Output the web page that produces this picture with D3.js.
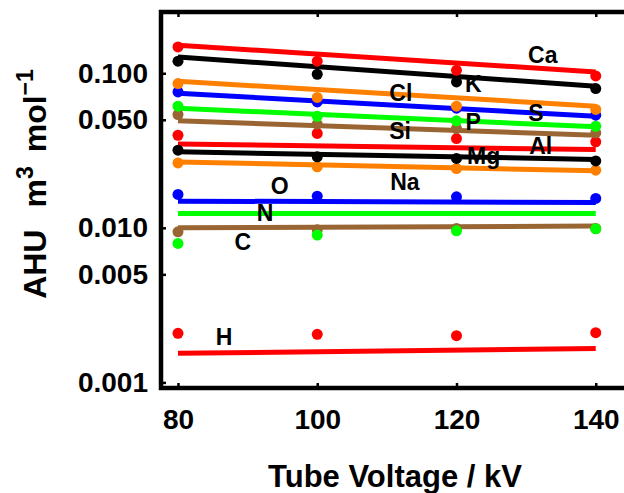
<!DOCTYPE html>
<html>
<head>
<meta charset="utf-8">
<script src="https://cdn.jsdelivr.net/npm/d3@7"></script>
<style>
  html, body { margin: 0; padding: 0; background: #fff; }
  svg { display: block; }
  text { font-family: "Liberation Sans", Arial, Helvetica, sans-serif; font-weight: bold; fill: #000; }
</style>
</head>
<body>
<svg id="chart" width="624" height="493"></svg>
<script>
// Tube voltages (kV) at which each element was measured
const voltages = [80, 100, 120, 140];

// Elements, drawing colours
const elements = ["Ca", "K", "Cl", "S", "P", "Si", "Al", "Mg", "Na", "O", "N", "C", "H"];
const colors = ["#ff0000", "#000000", "#ff8000", "#0000ff", "#00ff00", "#996633",
                "#ff0000", "#000000", "#ff8000", "#0000ff", "#00ff00", "#996633", "#ff0000"];

// Measured AHU per mole (m^3 mol^-1) at 80, 100, 120, 140 kV
const measured = [
  [0.148, 0.1196, 0.1045, 0.0960],   // Ca
  [0.1196, 0.0985, 0.0879, 0.0796],  // K
  [0.0858, 0.0697, 0.0612, 0.0583],  // Cl
  [0.0757, 0.0652, 0.0594, 0.0535],  // S
  [0.0612, 0.0527, 0.0492, 0.0454],  // P
  [0.0541, 0.0468, 0.0439, 0.0411],  // Si
  [0.0397, 0.0408, 0.0378, 0.0360],  // Al
  [0.0318, 0.0288, 0.0281, 0.0271],  // Mg
  [0.0263, 0.0248, 0.0242, 0.0236],  // Na
  [0.01645, 0.01603, 0.01586, 0.01549], // O
  [0.00793, 0.00897, 0.00956, 0.00985], // N
  [0.00942, 0.0097, 0.0099, 0.0099],    // C
  [0.002077, 0.002046, 0.002004, 0.002096] // H
];

// Fitted values at the ends of the voltage range (80 kV, 140 kV)
const fitAt80  = [0.152, 0.1273, 0.0888, 0.0743, 0.0594, 0.0492, 0.0348, 0.0310, 0.0267, 0.01488, 0.0124, 0.0100, 0.001541];
const fitAt140 = [0.102, 0.0824, 0.0612, 0.0527, 0.0450, 0.0397, 0.0321, 0.0277, 0.0234, 0.01460, 0.0124, 0.01026, 0.00166];

// Element label anchors: [kV, AHU]
const labelAt = [
  [132.4, 0.1307], [122.4, 0.0849], [112.0, 0.0743], [131.4, 0.0551],
  [122.4, 0.0482], [111.9, 0.0422], [132.1, 0.0337], [123.9, 0.0291],
  [112.6, 0.0197], [94.6, 0.0186], [92.5, 0.01245], [89.3, 0.00808], [86.6, 0.00197]
];

const yTicks = [0.001, 0.005, 0.01, 0.05, 0.1];
const xTicks = [80, 100, 120, 140];

const svg = d3.select("#chart");
const mLeft = 161, mRight = 641, mTop = 12, mBottom = 388;

const x = d3.scaleLinear().domain([77.56, 146.5]).range([mLeft, mRight]);
const y = d3.scaleLog().domain([0.00092, 0.249]).range([mBottom, mTop]);

// plot contents
const plot = svg.append("g");

const line = d3.line().x(d => x(d[0])).y(d => y(d[1]));
elements.forEach((el, i) => {
  plot.append("path")
    .attr("d", line([[voltages[0], fitAt80[i]], [voltages[voltages.length - 1], fitAt140[i]]]))
    .attr("fill", "none")
    .attr("stroke", colors[i])
    .attr("stroke-width", 5);
});

// points: earlier elements sit on top
for (let i = elements.length - 1; i >= 0; i--) {
  plot.append("g").selectAll("circle")
    .data(measured[i].map((v, j) => [voltages[j], v]))
    .join("circle")
    .attr("cx", d => x(d[0]))
    .attr("cy", d => y(d[1]))
    .attr("r", 5.5)
    .attr("fill", colors[i]);
}

// element labels
plot.append("g").selectAll("text")
  .data(elements)
  .join("text")
  .attr("x", (d, i) => x(labelAt[i][0]))
  .attr("y", (d, i) => y(labelAt[i][1]))
  .attr("text-anchor", "middle")
  .attr("dominant-baseline", "central")
  .attr("font-size", 23)
  .text(d => d);

// axes
const yAxis = d3.axisLeft(y).tickValues(yTicks).tickFormat(d3.format(".3f"))
  .tickSizeInner(-5).tickSizeOuter(0).tickPadding(13);
const gy = svg.append("g").attr("transform", `translate(${mLeft},0)`).call(yAxis);

const xAxis = d3.axisBottom(x).tickValues(xTicks).tickFormat(d3.format("d"))
  .tickSizeInner(-5).tickSizeOuter(0).tickPadding(21);
const gx = svg.append("g").attr("transform", `translate(0,${mBottom})`).call(xAxis);

const xTop = d3.axisTop(x).tickValues(xTicks).tickFormat("")
  .tickSizeInner(-5).tickSizeOuter(0);
const gt = svg.append("g").attr("transform", `translate(0,${mTop})`).call(xTop);

[gy, gx, gt].forEach(g => {
  g.select(".domain").remove();
  g.selectAll(".tick line").attr("stroke", "#000").attr("stroke-width", 2.5);
  g.selectAll(".tick text").attr("font-size", 28).attr("fill", "#000")
    .style("font-family", '"Liberation Sans", Arial, sans-serif').style("font-weight", "bold");
});

// frame
svg.append("rect")
  .attr("x", mLeft).attr("y", mTop)
  .attr("width", mRight - mLeft).attr("height", mBottom - mTop)
  .attr("fill", "none").attr("stroke", "#000").attr("stroke-width", 4.5);

// axis titles
svg.append("text")
  .attr("x", 395).attr("y", 487)
  .attr("text-anchor", "middle")
  .attr("font-size", 31)
  .text("Tube Voltage / kV");

const yt = svg.append("text")
  .attr("transform", "translate(46,184) rotate(-90)")
  .attr("text-anchor", "middle")
  .attr("font-size", 32);
yt.append("tspan").text("AHU");
yt.append("tspan").attr("dx", 22).text("m");
yt.append("tspan").attr("dy", -13).attr("font-size", 23).text("3");
yt.append("tspan").attr("dy", 13).attr("dx", 14).text("mol");
yt.append("tspan").attr("dy", -13).attr("font-size", 23).text("\u22121");
</script>
</body>
</html>
